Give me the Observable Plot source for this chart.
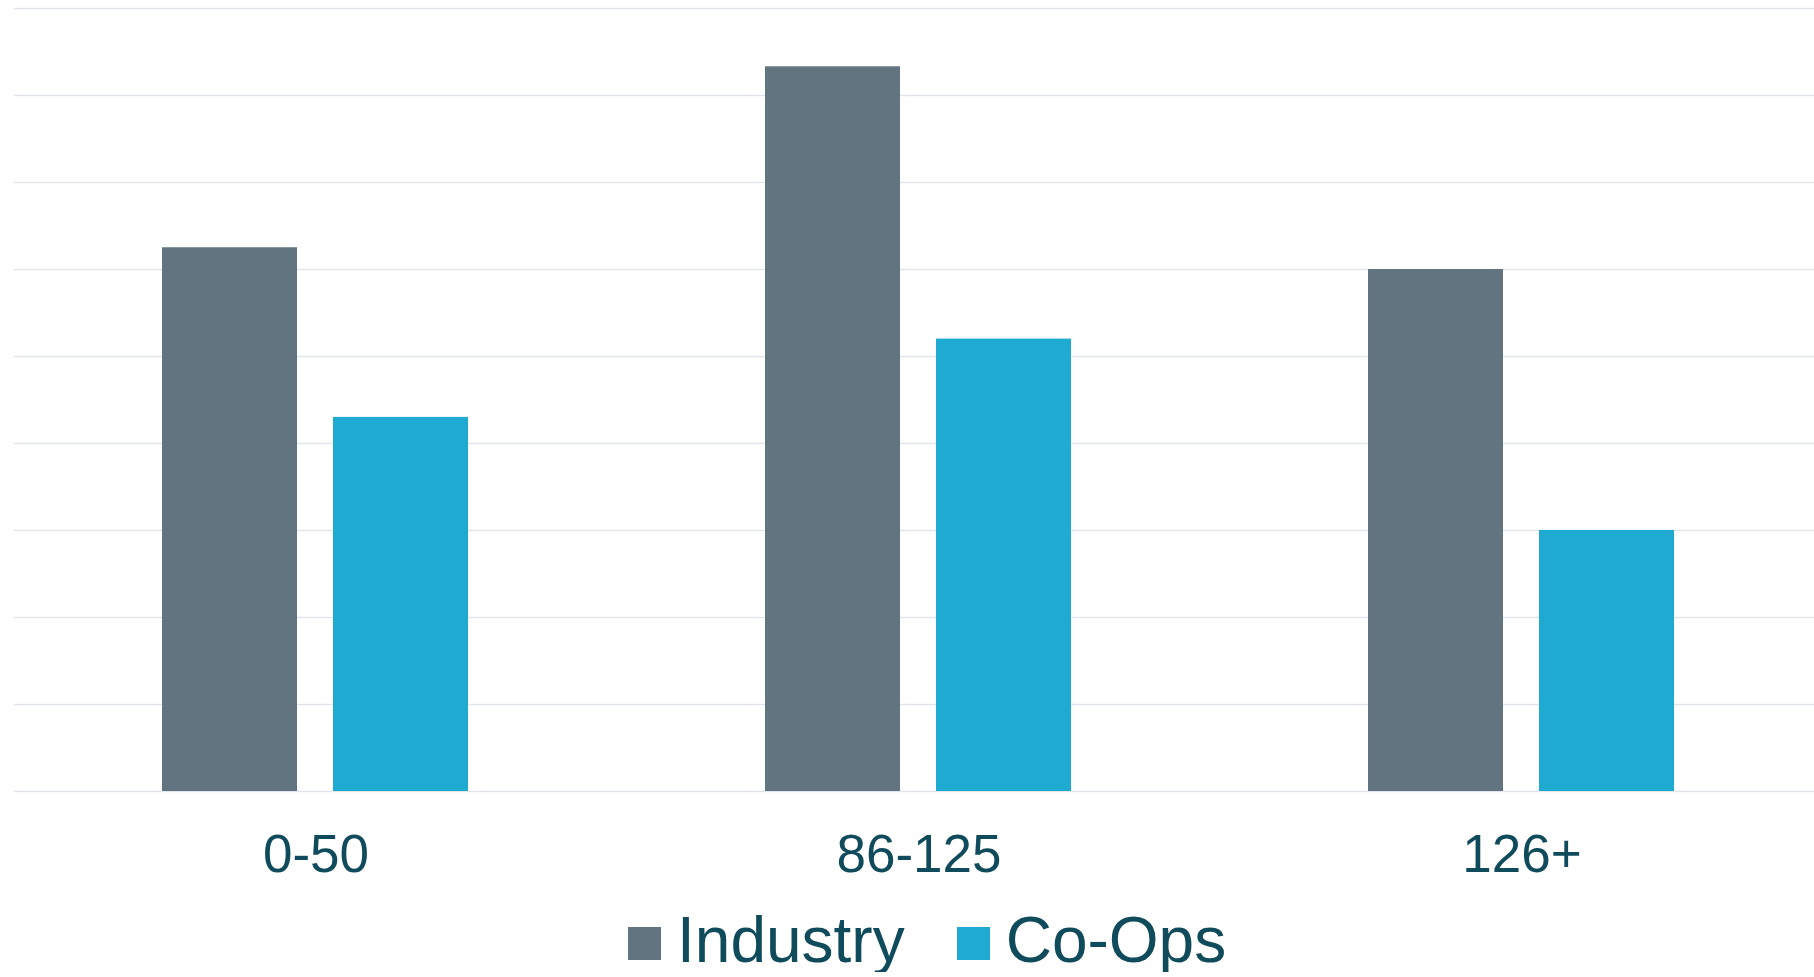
<!DOCTYPE html>
<html><head><meta charset="utf-8">
<script src="https://cdn.jsdelivr.net/npm/d3@7"></script>
<script src="https://cdn.jsdelivr.net/npm/@observablehq/plot@0.6"></script>
<style>
html,body{margin:0;padding:0;background:#fff;overflow:hidden;}
#chart{width:1814px;}
#chart svg{display:block;}
.legend{display:flex;align-items:center;font-family:"Liberation Sans",Arial,sans-serif;font-size:64px;line-height:64px;color:#0f4b5b;margin-top:3px;padding-left:628px;}
.item{display:flex;align-items:center;margin-right:52px;}
.sw{width:33px;height:33px;display:inline-block;margin-right:16px;transform:translateY(3px);}
</style></head><body>
<div id="chart"></div>
<div class="legend" id="legend"></div>
<script>
const categories = ["0-50", "86-125", "126+"];
const seriesNames = ["Industry", "Co-Ops"];
const industry = [6.25, 8.33, 6.0];
const coops = [4.3, 5.2, 3.0];
const seriesColors = ["#627480", "#1eaad1"];
const yTicks = [0, 1, 2, 3, 4, 5, 6, 7, 8, 9];

const data = categories.flatMap((c, i) => [
  {category: c, series: seriesNames[0], value: industry[i]},
  {category: c, series: seriesNames[1], value: coops[i]}
]);

const chart = Plot.plot({
  width: 1814,
  height: 905,
  marginLeft: 13,
  marginRight: -9,
  marginTop: 8,
  marginBottom: 114,
  style: {fontFamily: "'Liberation Sans', Arial, sans-serif", background: "#fff", color: "#0f4b5b"},
  fx: {domain: categories, padding: 0, label: null, axis: null},
  x: {domain: seriesNames, paddingInner: 0.211, paddingOuter: 0.862, align: 0.498, axis: null},
  y: {domain: [0, 9], axis: null},
  color: {domain: seriesNames, range: seriesColors},
  marks: [
    Plot.ruleY(yTicks, {stroke: "#dfe5ea", strokeWidth: 1.5}),
    Plot.barY(data, {fx: "category", x: "series", y: "value", fill: "series"}),
    Plot.axisFx({anchor: "bottom", tickSize: 0, tickPadding: 43, fontSize: 53, label: null})
  ]
});
document.getElementById("chart").appendChild(chart);

const legend = document.getElementById("legend");
seriesNames.forEach((name, i) => {
  const item = document.createElement("div");
  item.className = "item";
  const sw = document.createElement("span");
  sw.className = "sw";
  sw.style.background = seriesColors[i];
  const label = document.createElement("span");
  label.textContent = name;
  item.appendChild(sw);
  item.appendChild(label);
  legend.appendChild(item);
});
</script>
</body></html>
